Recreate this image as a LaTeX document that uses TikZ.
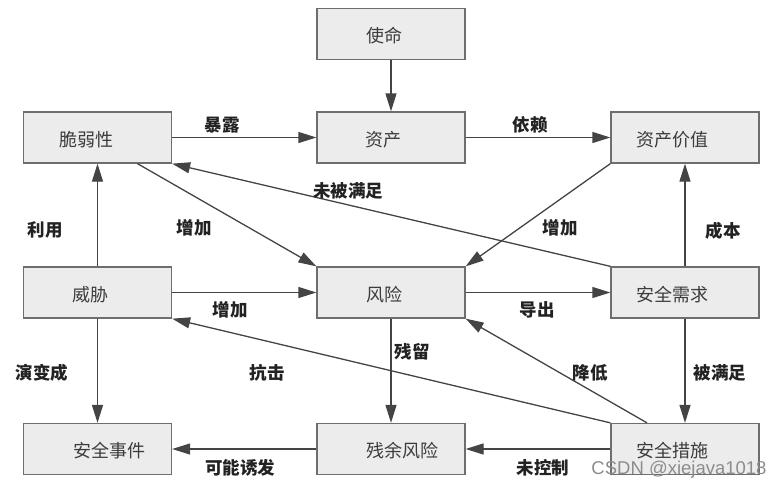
\documentclass[tikz,border=0pt]{standalone}
\usepackage{fontspec}
\newfontfamily\cjk{Noto Sans CJK SC}
\newfontfamily\wmfont{Liberation Sans}
\usetikzlibrary{arrows.meta}
\definecolor{boxfill}{HTML}{ECECEC}
\definecolor{boxline}{HTML}{6E6E6E}
\definecolor{arrline}{HTML}{444444}
\definecolor{boxtext}{HTML}{3C3C3C}
\definecolor{labtext}{HTML}{222222}
\tikzset{
  box/.style={draw=boxline, fill=boxfill, line width=1.3pt, minimum width=148pt, minimum height=51pt, inner sep=0pt},
  boxlab/.style={font=\cjk\fontsize{18}{18}\selectfont, text=boxtext, inner sep=0pt},
  conn/.style={draw=arrline, line width=1.3pt, -{Triangle[length=18pt,width=11pt]}},
  lab/.style={font=\cjk\bfseries\fontsize{17.5}{17.5}\selectfont, text=labtext, inner sep=0pt},
  wm/.style={font=\wmfont\fontsize{18.5}{18.5}\selectfont, text=black!45, inner sep=0pt}
}
\begin{document}
\begin{tikzpicture}[x=1pt,y=-1pt]
\useasboundingbox (0,0) rectangle (784,490);
% boxes
\node[box, label={[boxlab, xshift=-7pt, yshift=-2pt]center:使命}] (ms) at (391,34) {};
\node[box, label={[boxlab, xshift=-11.5pt, yshift=-2pt]center:脆弱性}] (cr) at (97.5,137.5) {};
\node[box, label={[boxlab, xshift=-7.5pt, yshift=-2pt]center:资产}] (zc) at (391,137.5) {};
\node[box, label={[boxlab, xshift=-13pt, yshift=-2pt]center:资产价值}] (jz) at (685,137.5) {};
\node[box, label={[boxlab, xshift=-7.5pt, yshift=-2pt]center:威胁}] (wx) at (97.5,292.5) {};
\node[box, label={[boxlab, xshift=-7pt, yshift=-2pt]center:风险}] (fx) at (391,292.5) {};
\node[box, label={[boxlab, xshift=-13pt, yshift=-2pt]center:安全需求}] (xq) at (685,292.5) {};
\node[box, label={[boxlab, xshift=12pt, yshift=-2pt]center:安全事件}] (sj) at (97.5,449) {};
\node[box, label={[boxlab, xshift=11pt, yshift=-2pt]center:残余风险}] (cy) at (391,449) {};
\node[box, label={[boxlab, xshift=-13pt, yshift=-2pt]center:安全措施}] (cs) at (685,449) {};
% connectors
\draw[conn] (ms.south) -- (zc.north);
\draw[conn] (cr.east) -- (zc.west);
\draw[conn] (zc.east) -- (jz.west);
\draw[conn] (wx.north) -- (cr.south);
\draw[conn] ([xshift=40pt]cr.south) -- (fx.north west);
\draw[conn] (xq.north west) -- (cr.south east);
\draw[conn] (jz.south west) -- (fx.north east);
\draw[conn] (xq.north) -- (jz.south);
\draw[conn] (wx.east) -- (fx.west);
\draw[conn] (fx.east) -- (xq.west);
\draw[conn] (wx.south) -- (sj.north);
\draw[conn] (fx.south) -- (cy.north);
\draw[conn] (xq.south) -- (cs.north);
\draw[conn] (cs.north west) -- (wx.south east);
\draw[conn] ([xshift=-38pt]cs.north) -- (fx.south east);
\draw[conn] (cs.west) -- (cy.east);
\draw[conn] (cy.west) -- (sj.east);
% labels
\node[lab] (l1) at (222,125) {暴露};
\node[lab] (l2) at (530,125) {依赖};
\node[lab] (l3) at (348,191) {未被满足};
\node[lab] (l4) at (45,230) {利用};
\node[lab] (l5) at (194,228) {增加};
\node[lab] (l6) at (560,228) {增加};
\node[lab] (l7) at (723,231) {成本};
\node[lab] (l8) at (230,310) {增加};
\node[lab] (l9) at (537,310) {导出};
\node[lab] (l10) at (42,373) {演变成};
\node[lab] (l11) at (267,373) {抗击};
\node[lab] (l12) at (412,352) {残留};
\node[lab] (l13) at (590,373) {降低};
\node[lab] (l14) at (720,373) {被满足};
\node[lab] (l15) at (543,468) {未控制};
\node[lab] (l16) at (240,468) {可能诱发};
\node[wm] (wmk) at (679,470) {CSDN @xiejava1018};
\end{tikzpicture}
\end{document}
